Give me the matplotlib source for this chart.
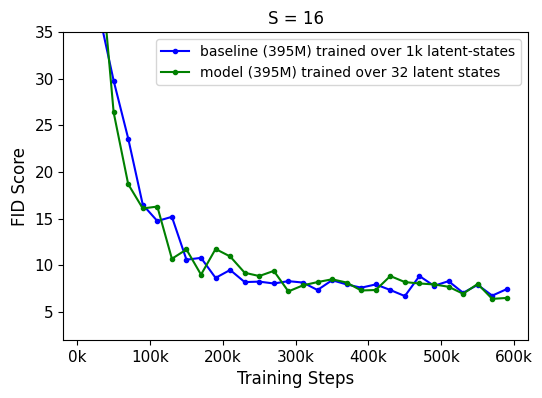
import numpy as np
import matplotlib
matplotlib.use("Agg")
import matplotlib.pyplot as plt
from matplotlib.ticker import FuncFormatter

# training steps (every 20k, starting at 10k)
steps = np.arange(10000, 600000, 20000)

baseline_fid = [60.0, 37.0, 29.8, 23.6, 16.5, 14.75, 15.2, 10.6, 10.8, 8.65,
                9.5, 8.2, 8.25, 8.05, 8.3, 8.15, 7.35, 8.4, 7.95, 7.6,
                7.95, 7.35, 6.7, 8.85, 7.8, 8.3, 7.05, 7.9, 6.75, 7.45]
model_fid = [70.0, 44.0, 26.4, 18.7, 16.1, 16.3, 10.7, 11.7, 9.0, 11.75,
             10.95, 9.2, 8.85, 9.4, 7.2, 7.85, 8.2, 8.5, 8.15, 7.3,
             7.35, 8.85, 8.2, 8.05, 7.95, 7.7, 6.95, 8.0, 6.4, 6.5]

fig, ax = plt.subplots(figsize=(5.42, 3.98), dpi=100)
fig.subplots_adjust(left=0.117, right=0.974, top=0.919, bottom=0.146)

ax.plot(steps, baseline_fid, '.-', color='blue', label='baseline (395M) trained over 1k latent-states')
ax.plot(steps, model_fid, '.-', color='green', label='model (395M) trained over 32 latent states')

ax.set_ylim(2, 35)
ax.set_xticks(np.arange(0, 600001, 100000))
ax.xaxis.set_major_formatter(FuncFormatter(lambda v, p: '%dk' % int(v / 1000)))
ax.tick_params(labelsize=11)
ax.set_title('S = 16', fontsize=12)
ax.set_xlabel('Training Steps', fontsize=12)
ax.set_ylabel('FID Score', fontsize=12)
ax.legend(loc='upper right', fontsize=10)

plt.savefig('out.png', dpi=100)
